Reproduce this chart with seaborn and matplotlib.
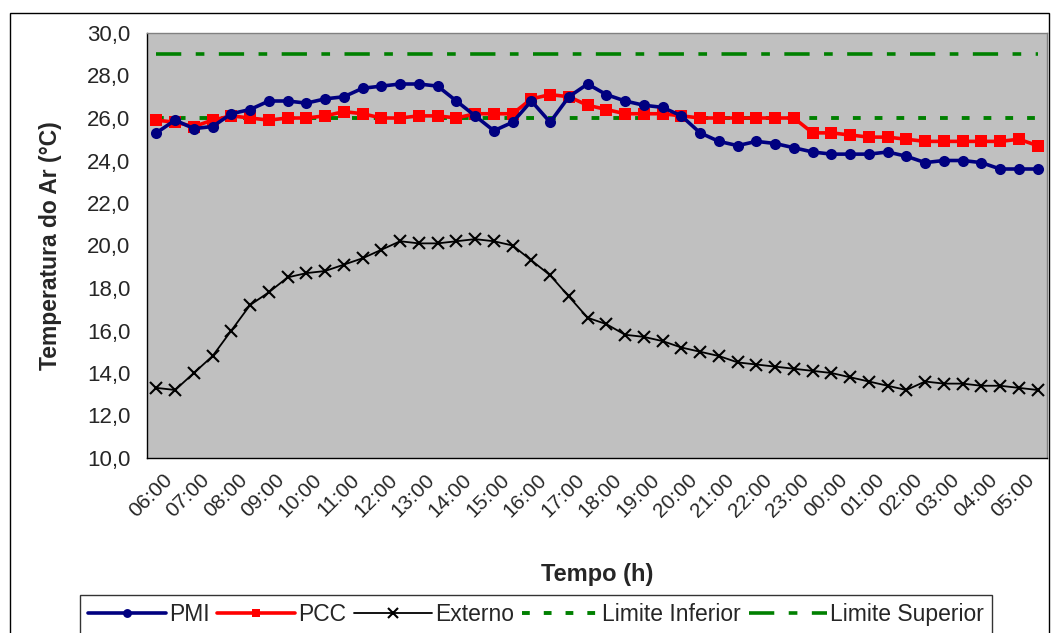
import numpy as np
import pandas as pd
import matplotlib
matplotlib.use('Agg')
import matplotlib.pyplot as plt
from matplotlib.patches import Rectangle
from matplotlib.ticker import FuncFormatter
from matplotlib.transforms import ScaledTranslation
import seaborn as sns

# leituras a cada 30 min, 06:00 -> 05:30
pmi = [25.3, 25.9, 25.5, 25.6, 26.2, 26.4, 26.8, 26.8, 26.7, 26.9,
       27.0, 27.4, 27.5, 27.6, 27.6, 27.5, 26.8, 26.1, 25.4, 25.8,
       26.8, 25.8, 27.0, 27.6, 27.1, 26.8, 26.6, 26.5, 26.1, 25.3,
       24.9, 24.7, 24.9, 24.8, 24.6, 24.4, 24.3, 24.3, 24.3, 24.4,
       24.2, 23.9, 24.0, 24.0, 23.9, 23.6, 23.6, 23.6]
pcc = [25.9, 25.8, 25.6, 25.9, 26.1, 26.0, 25.9, 26.0, 26.0, 26.1,
       26.3, 26.2, 26.0, 26.0, 26.1, 26.1, 26.0, 26.2, 26.2, 26.2,
       26.9, 27.1, 27.0, 26.6, 26.4, 26.2, 26.2, 26.2, 26.1, 26.0,
       26.0, 26.0, 26.0, 26.0, 26.0, 25.3, 25.3, 25.2, 25.1, 25.1,
       25.0, 24.9, 24.9, 24.9, 24.9, 24.9, 25.0, 24.7]
externo = [13.3, 13.2, 14.0, 14.8, 16.0, 17.2, 17.8, 18.5, 18.7, 18.8,
           19.1, 19.4, 19.8, 20.2, 20.1, 20.1, 20.2, 20.3, 20.2, 20.0,
           19.3, 18.6, 17.6, 16.6, 16.3, 15.8, 15.7, 15.5, 15.2, 15.0,
           14.8, 14.5, 14.4, 14.3, 14.2, 14.1, 14.0, 13.8, 13.6, 13.4,
           13.2, 13.6, 13.5, 13.5, 13.4, 13.4, 13.3, 13.2]
limite_inferior = [26.0] * 48
limite_superior = [29.0] * 48
horas = ['06:00', '07:00', '08:00', '09:00', '10:00', '11:00', '12:00', '13:00',
         '14:00', '15:00', '16:00', '17:00', '18:00', '19:00', '20:00', '21:00',
         '22:00', '23:00', '00:00', '01:00', '02:00', '03:00', '04:00', '05:00']

df = pd.DataFrame({'i': np.arange(len(pmi)), 'PMI': pmi, 'PCC': pcc, 'Externo': externo,
                   'Limite Inferior': limite_inferior, 'Limite Superior': limite_superior})

sns.set_style('white')
plt.rcParams['font.family'] = ['Liberation Sans', 'DejaVu Sans']

W, H = 1051, 633
fig = plt.figure(figsize=(W / 100, H / 100), dpi=100)
fig.patches.append(Rectangle((10 / W, -0.1), (1049 - 10) / W, 1.1 - 13 / H,
                             transform=fig.transFigure, fill=False, edgecolor='black', lw=1))
ax = fig.add_axes([147 / W, 1 - 458 / H, 900 / W, 425 / H])
ax.set_facecolor('#C0C0C0')

sns.lineplot(data=df, x='i', y='Limite Inferior', ax=ax, color='#008000', lw=2.8,
             linestyle=(0, (2.0, 3.6)), label='Limite Inferior')
sns.lineplot(data=df, x='i', y='Limite Superior', ax=ax, color='#008000', lw=2.6,
             linestyle=(0, (7.0, 4.0, 2.4, 4.0)), label='Limite Superior')
sns.lineplot(data=df, x='i', y='Externo', ax=ax, color='black', lw=1.3, marker='x',
             markersize=9, markeredgewidth=1.5, markeredgecolor='black', label='Externo')
sns.lineplot(data=df, x='i', y='PCC', ax=ax, color='#FF0000', lw=2.6, marker='s',
             markersize=8, markeredgewidth=0, label='PCC')
sns.lineplot(data=df, x='i', y='PMI', ax=ax, color='#000080', lw=2.6, marker='o',
             markersize=8, markeredgewidth=0, label='PMI')

ax.set_xlim(-0.5, len(pmi) - 0.5)
ax.set_ylim(10, 30)
ax.set_yticks(np.arange(10, 31, 2))
ax.yaxis.set_major_formatter(FuncFormatter(lambda v, p: f'{v:.1f}'.replace('.', ',')))
ax.tick_params(axis='y', labelsize=16, length=6, width=1, color='black', pad=6)

ax.set_xticks(np.arange(0, len(pmi), 2))
ax.set_xticklabels(horas, rotation=45, ha='right', va='top', rotation_mode='anchor')
ax.set_xticks(np.arange(-0.5, len(pmi), 1), minor=True)
ax.tick_params(axis='x', which='major', length=0, labelsize=15, pad=9)
ax.tick_params(axis='x', which='minor', length=6, width=1, color='black')
shift = ScaledTranslation(6 / 100, 0, fig.dpi_scale_trans)
for t in ax.get_xticklabels():
    t.set_transform(t.get_transform() + shift)

for s in ['left', 'bottom']:
    ax.spines[s].set_color('black')
    ax.spines[s].set_linewidth(1)
for s in ['top', 'right']:
    ax.spines[s].set_color('#808080')
    ax.spines[s].set_linewidth(1)

ax.set_xlabel('Tempo (h)', fontsize=17, fontweight='bold', labelpad=30)
ax.set_ylabel('Temperatura do Ar (°C)', fontsize=16.5, fontweight='bold', labelpad=18)

handles, labels = ax.get_legend_handles_labels()
order = ['PMI', 'PCC', 'Externo', 'Limite Inferior', 'Limite Superior']
hmap = dict(zip(labels, handles))
ax.get_legend().remove()
leg = fig.legend([hmap[k] for k in order], order, loc='upper left',
                 bbox_to_anchor=(80 / W, 1 - 595 / H), ncol=5, fontsize=16.5,
                 frameon=True, fancybox=False, edgecolor='black', handlelength=3.4,
                 handletextpad=0.12, columnspacing=0.35, borderpad=0.35,
                 borderaxespad=0, numpoints=1, markerscale=0.8)
leg.get_frame().set_linewidth(1)

fig.savefig('out.png', dpi=100)
